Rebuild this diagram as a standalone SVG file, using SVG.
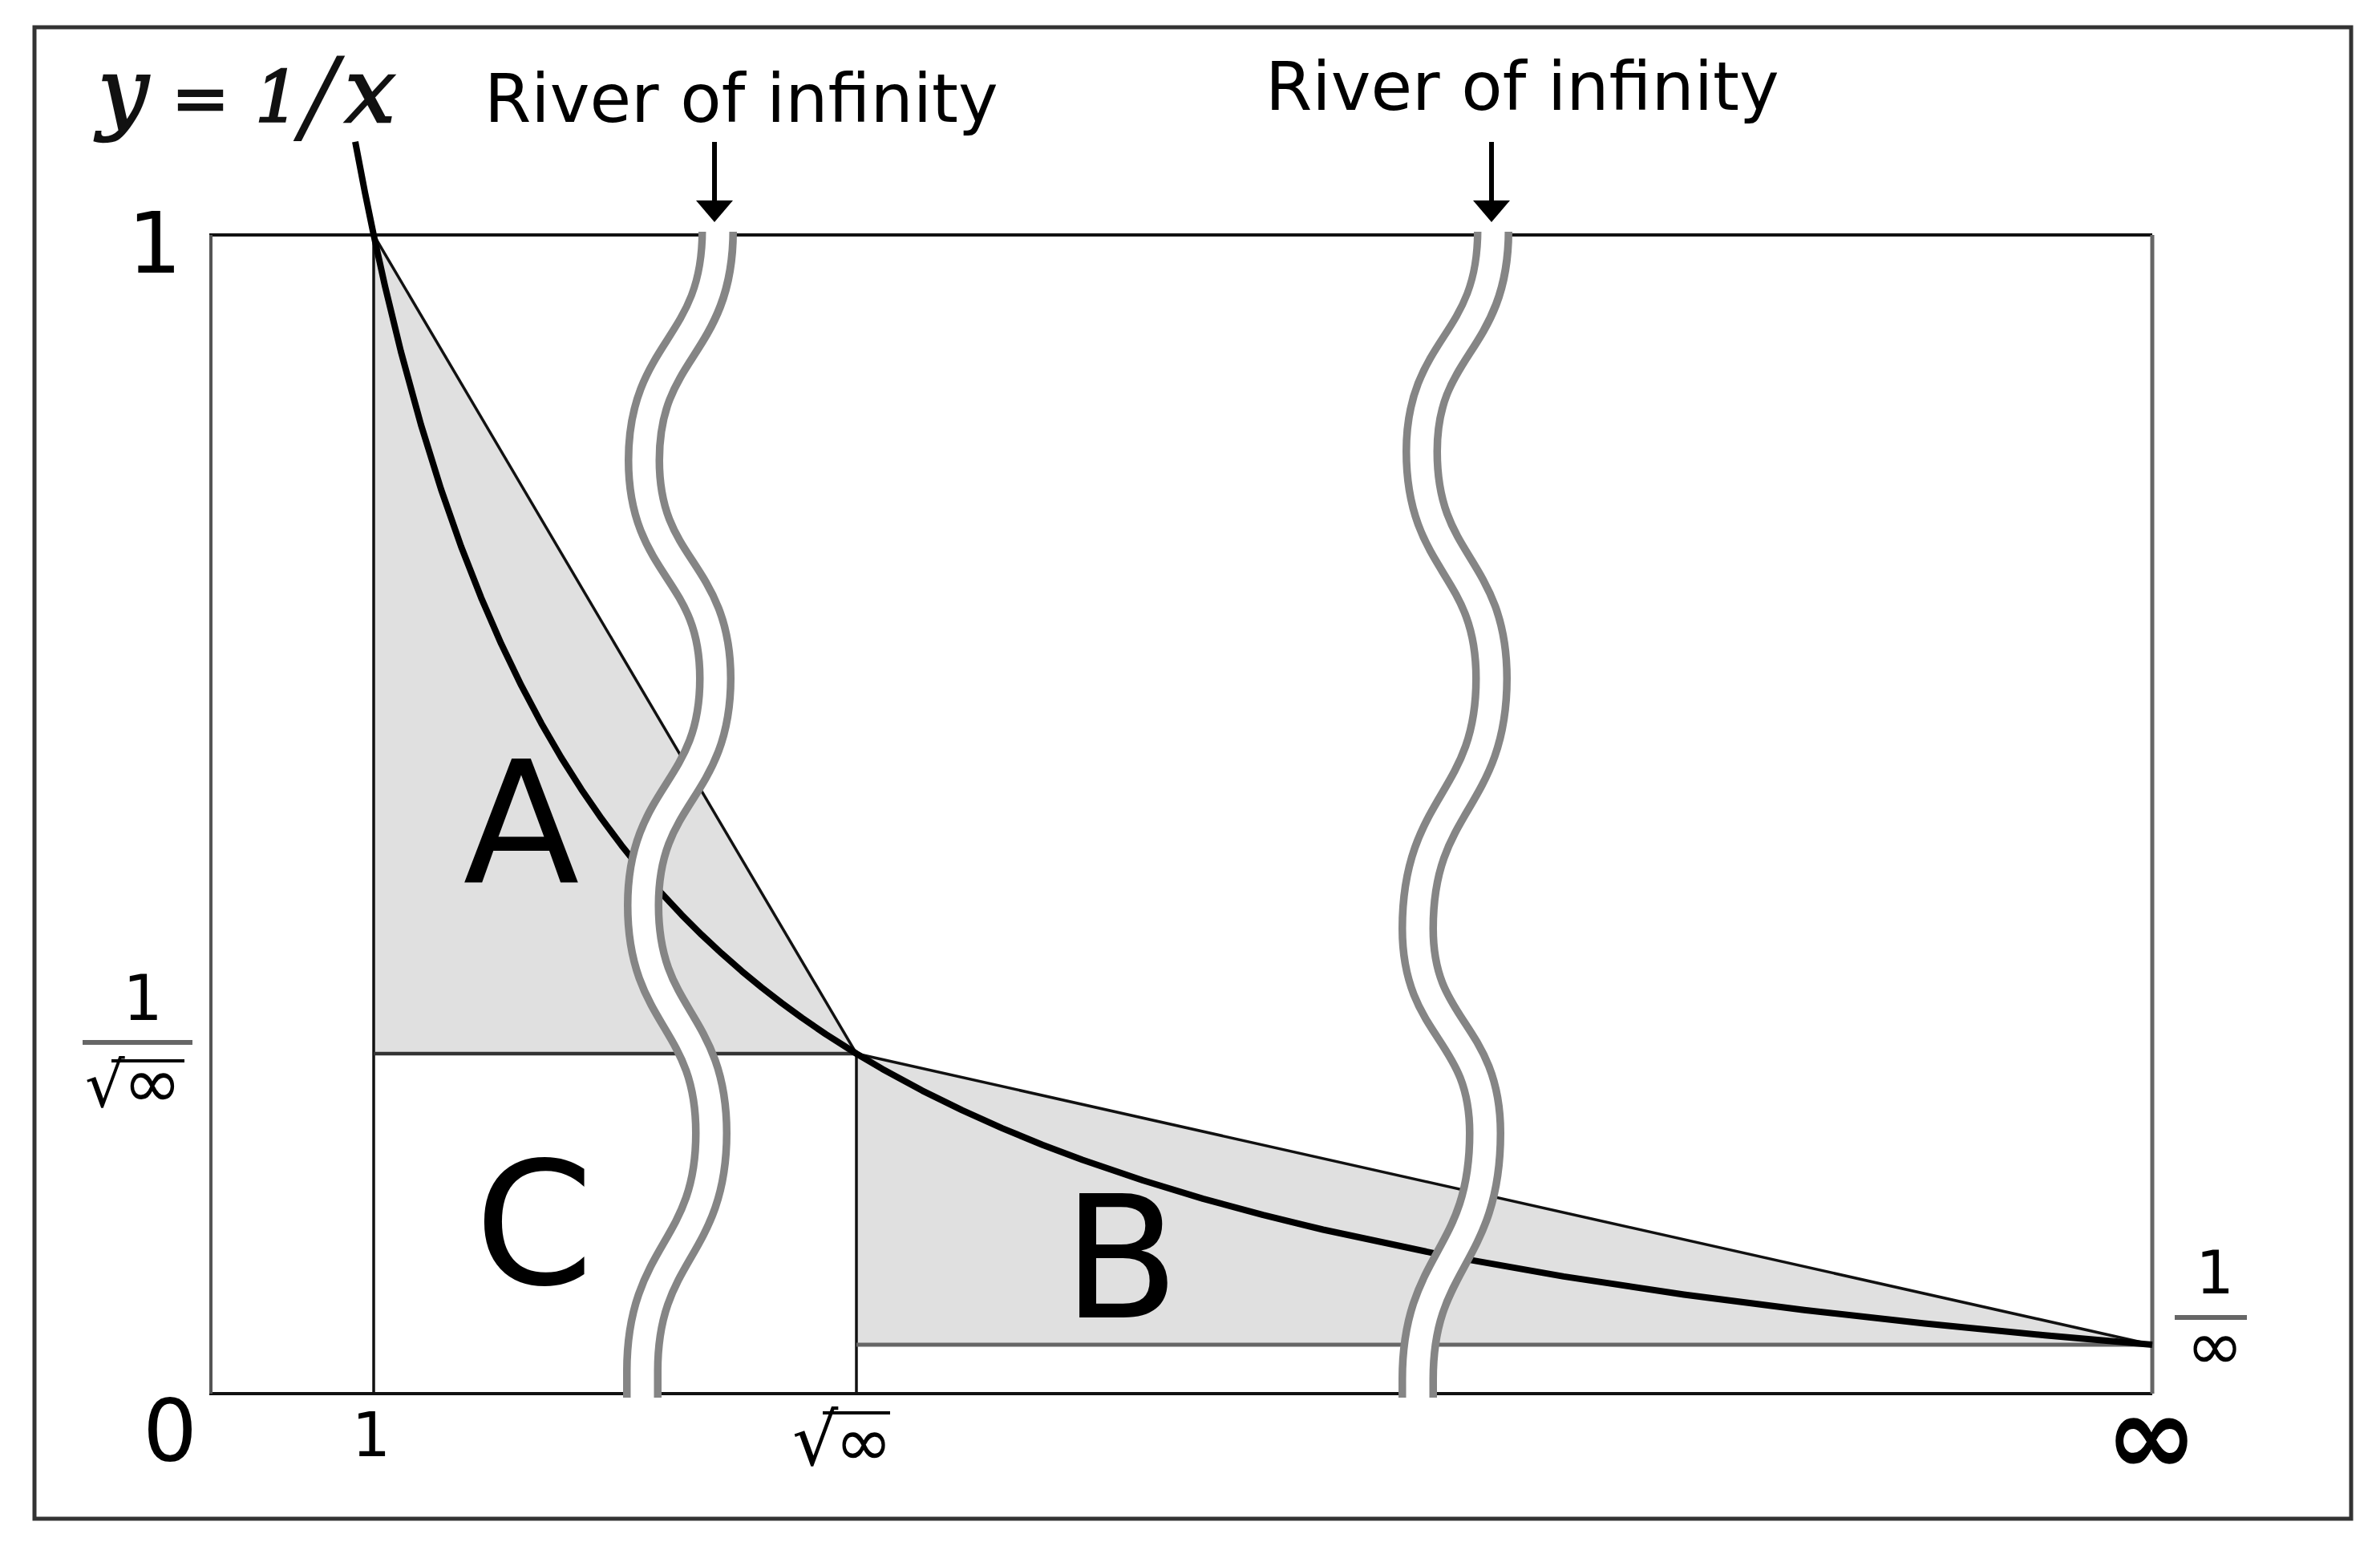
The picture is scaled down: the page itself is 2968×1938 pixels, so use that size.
<svg xmlns="http://www.w3.org/2000/svg" width="2968" height="1938" viewBox="0 0 2968 1938">
<defs>
<style>
.sans{font-family:"DejaVu Sans","Verdana",sans-serif;fill:#000}
.serif{font-family:"DejaVu Serif","Liberation Serif",serif;font-style:italic;fill:#111;stroke:#111;stroke-width:2.5}
.shade{fill:#e0e0e0;stroke:none}
.thin{stroke:#111;stroke-width:3.5;fill:none}
.rb{stroke:#858585;stroke-width:48;fill:none}
.rw{stroke:#fff;stroke-width:29;fill:none}
.bar{stroke:#666;stroke-width:6}
</style>
<marker id="ah" markerUnits="userSpaceOnUse" viewBox="0 0 27 46" markerWidth="27" markerHeight="46" refX="7" refY="23" orient="auto">
<path d="M0,0 L27,23 L0,46 Z" fill="#000"/>
</marker>
</defs>
<rect width="2968" height="1938" fill="#fff"/>
<g id="frame">
<rect x="43" y="34" width="2889" height="1860" fill="#fff" stroke="#333" stroke-width="5"/>
</g>
<g id="regions">
<polygon id="regionA" class="shade" points="466,293 1068,1314 466,1314"/>
<polygon id="regionB" class="shade" points="1068,1314 2684,1677 1068,1677"/>
</g>
<g id="axes">
<line x1="261" y1="293" x2="2684" y2="293" stroke="#111" stroke-width="4"/>
<line x1="261" y1="1738" x2="2684" y2="1738" stroke="#111" stroke-width="4"/>
<line x1="263" y1="293" x2="263" y2="1738" stroke="#555" stroke-width="4"/>
<line x1="2684" y1="293" x2="2684" y2="1738" stroke="#666" stroke-width="5"/>
<line x1="466" y1="293" x2="466" y2="1738" class="thin"/>
<line x1="466" y1="1314" x2="1068" y2="1314" stroke="#333" stroke-width="4.5"/>
<line x1="1068" y1="1314" x2="1068" y2="1738" class="thin"/>
<line x1="1068" y1="1677" x2="2684" y2="1677" stroke="#666" stroke-width="5"/>
</g>
<g id="chords">
<line x1="466" y1="293" x2="1068" y2="1314" class="thin"/>
<line x1="1068" y1="1314" x2="2684" y2="1677" class="thin"/>
</g>
<g id="curve">
<polyline fill="none" stroke="#000" stroke-width="8" stroke-linejoin="round" points="443,176.8 455,239.5 466,293 480,356.4 500,438.6 525,529.8 550,610.1 575,681.5 600,745.3 625,802.8 650,854.7 675,901.9 700,945 725,984.4 750,1020.7 775,1054.2 800,1085.2 825,1114 850,1140.8 875,1165.8 900,1189.1 925,1211.1 950,1231.7 975,1251 1000,1269.3 1030,1289.9 1068,1314 1100,1332.9 1150,1360.1 1200,1384.7 1250,1407.1 1300,1427.7 1350,1446.5 1425,1472 1500,1494.8 1575,1515.2 1650,1533.5 1800,1565.4 1950,1591.9 2100,1614.5 2250,1633.8 2400,1650.6 2550,1665.3 2684,1677"/>
</g>
<g id="labels-regions">
<text class="sans" x="650" y="1101" font-size="212" text-anchor="middle">A</text>
<text class="sans" x="1398" y="1643" font-size="212" text-anchor="middle">B</text>
<text class="sans" x="666" y="1601" font-size="212" text-anchor="middle">C</text>
</g>
<g id="river1">
<path class="rb" d="M895 289 C895 434 803 434 803 574 C803 710 892 710 892 846 C892 988 802 988 802 1129 C802 1271 887 1271 887 1413 C887 1560 801 1560 801 1710 L801 1743"/>
<path class="rw" d="M895 286 C895 434 803 434 803 574 C803 710 892 710 892 846 C892 988 802 988 802 1129 C802 1271 887 1271 887 1413 C887 1560 801 1560 801 1710 L801 1746"/>
</g>
<g id="river2">
<path class="rb" d="M1862 289 C1862 430 1773 430 1773 563 C1773 705 1860 705 1860 846 C1860 1000 1768 1000 1768 1158 C1768 1285 1852 1285 1852 1413 C1852 1570 1768 1570 1768 1720 L1768 1743"/>
<path class="rw" d="M1862 286 C1862 430 1773 430 1773 563 C1773 705 1860 705 1860 846 C1860 1000 1768 1000 1768 1158 C1768 1285 1852 1285 1852 1413 C1852 1570 1768 1570 1768 1720 L1768 1746"/>
</g>
<g id="connectors">
<line x1="891" y1="177" x2="891" y2="257" stroke="#000" stroke-width="6" marker-end="url(#ah)"/>
<line x1="1860" y1="177" x2="1860" y2="257" stroke="#000" stroke-width="6" marker-end="url(#ah)"/>
</g>
<g id="title">
<text class="serif" y="152" font-size="112"><tspan x="122">y</tspan><tspan x="214" font-size="86" font-style="normal">=</tspan><tspan x="318" font-size="88">1</tspan><tspan x="376" y="164" font-size="130" stroke-width="0">/</tspan><tspan x="430" y="152">x</tspan></text>
</g>
<g id="river-labels">
<text class="sans" x="604" y="152" font-size="84">River of infinity</text>
<text class="sans" x="1578" y="137" font-size="84">River of infinity</text>
</g>
<g id="tick-labels">
<text class="sans" x="193" y="340" font-size="106" text-anchor="middle">1</text>
<text class="sans" x="212" y="1821" font-size="107" text-anchor="middle">0</text>
<text class="sans" x="463" y="1816" font-size="76" text-anchor="middle">1</text>
<text class="sans" x="988" y="1827" font-size="90">√</text>
<line x1="1026" y1="1762" x2="1110" y2="1762" stroke="#000" stroke-width="4"/>
<text class="sans" x="1077" y="1828" font-size="86" text-anchor="middle">∞</text>
<text class="sans" x="2683" y="1838" font-size="138" font-weight="bold" text-anchor="middle">∞</text>
<text class="sans" x="178" y="1272" font-size="78" text-anchor="middle">1</text>
<line x1="103" y1="1300" x2="240" y2="1300" class="bar"/>
<text class="sans" x="106" y="1380" font-size="78">√</text>
<line x1="139" y1="1323" x2="230" y2="1323" stroke="#000" stroke-width="4"/>
<text class="sans" x="190" y="1381" font-size="88" text-anchor="middle">∞</text>
<text class="sans" x="2762" y="1613" font-size="75" text-anchor="middle">1</text>
<line x1="2712" y1="1643" x2="2802" y2="1643" class="bar"/>
<text class="sans" x="2762" y="1708" font-size="86" text-anchor="middle">∞</text>
</g>
</svg>
